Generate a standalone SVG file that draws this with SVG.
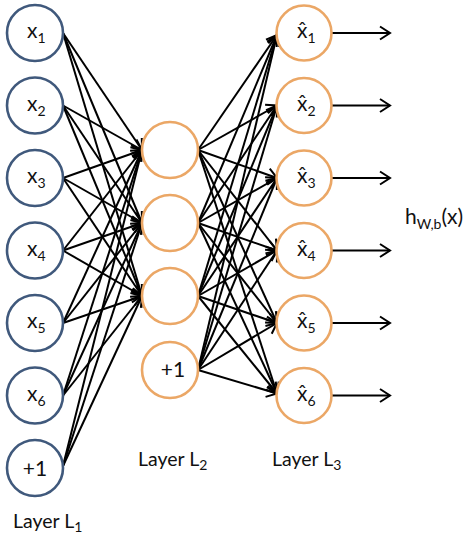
<svg xmlns="http://www.w3.org/2000/svg" width="469" height="535" viewBox="0 0 469 535">
<style>
  .n1 { fill: #ffffff; stroke: #40597c; stroke-width: 2.6; }
  .n2 { fill: #ffffff; stroke: #eba766; stroke-width: 2.6; }
  .t { font-family: Lato, "Open Sans", "Liberation Sans", sans-serif; font-size: 21px; fill: #111111; }
  .l { font-size: 19.5px; }
  .s { font-size: 14px; }
  .e { stroke: #000000; stroke-width: 2; fill: none; marker-end: url(#arr); }
</style>
<defs>
  <marker id="arr" markerUnits="userSpaceOnUse" viewBox="-12 -8 14 16" refX="0" refY="0" markerWidth="14" markerHeight="16" orient="auto">
    <path d="M-10,-6.5 L0,0 L-10,6.5" fill="none" stroke="#000000" stroke-width="2"/>
  </marker>
</defs>
<rect width="469" height="535" fill="#ffffff"/>

<g id="connectors">
  <line class="e" x1="63" y1="33" x2="142" y2="150"/>
  <line class="e" x1="63" y1="33" x2="142" y2="223"/>
  <line class="e" x1="63" y1="33" x2="142" y2="296"/>
  <line class="e" x1="63" y1="105.5" x2="142" y2="150"/>
  <line class="e" x1="63" y1="105.5" x2="142" y2="223"/>
  <line class="e" x1="63" y1="105.5" x2="142" y2="296"/>
  <line class="e" x1="63" y1="178" x2="142" y2="150"/>
  <line class="e" x1="63" y1="178" x2="142" y2="223"/>
  <line class="e" x1="63" y1="178" x2="142" y2="296"/>
  <line class="e" x1="63" y1="250.5" x2="142" y2="150"/>
  <line class="e" x1="63" y1="250.5" x2="142" y2="223"/>
  <line class="e" x1="63" y1="250.5" x2="142" y2="296"/>
  <line class="e" x1="63" y1="323" x2="142" y2="150"/>
  <line class="e" x1="63" y1="323" x2="142" y2="223"/>
  <line class="e" x1="63" y1="323" x2="142" y2="296"/>
  <line class="e" x1="63" y1="395.5" x2="142" y2="150"/>
  <line class="e" x1="63" y1="395.5" x2="142" y2="223"/>
  <line class="e" x1="63" y1="395.5" x2="142" y2="296"/>
  <line class="e" x1="63" y1="466" x2="142" y2="150"/>
  <line class="e" x1="63" y1="466" x2="142" y2="223"/>
  <line class="e" x1="63" y1="466" x2="142" y2="296"/>

  <line class="e" x1="198" y1="150" x2="277" y2="35"/>
  <line class="e" x1="198" y1="150" x2="277" y2="105.5"/>
  <line class="e" x1="198" y1="150" x2="277" y2="178"/>
  <line class="e" x1="198" y1="150" x2="277" y2="250.5"/>
  <line class="e" x1="198" y1="150" x2="277" y2="323"/>
  <line class="e" x1="198" y1="150" x2="277" y2="393.5"/>
  <line class="e" x1="198" y1="223" x2="277" y2="35"/>
  <line class="e" x1="198" y1="223" x2="277" y2="105.5"/>
  <line class="e" x1="198" y1="223" x2="277" y2="178"/>
  <line class="e" x1="198" y1="223" x2="277" y2="250.5"/>
  <line class="e" x1="198" y1="223" x2="277" y2="323"/>
  <line class="e" x1="198" y1="223" x2="277" y2="393.5"/>
  <line class="e" x1="198" y1="296" x2="277" y2="35"/>
  <line class="e" x1="198" y1="296" x2="277" y2="105.5"/>
  <line class="e" x1="198" y1="296" x2="277" y2="178"/>
  <line class="e" x1="198" y1="296" x2="277" y2="250.5"/>
  <line class="e" x1="198" y1="296" x2="277" y2="323"/>
  <line class="e" x1="198" y1="296" x2="277" y2="393.5"/>
  <line class="e" x1="198" y1="370" x2="277" y2="35"/>
  <line class="e" x1="198" y1="370" x2="277" y2="105.5"/>
  <line class="e" x1="198" y1="370" x2="277" y2="178"/>
  <line class="e" x1="198" y1="370" x2="277" y2="250.5"/>
  <line class="e" x1="198" y1="370" x2="277" y2="323"/>
  <line class="e" x1="198" y1="370" x2="277" y2="393.5"/>

  <line class="e" x1="332" y1="33" x2="390" y2="33"/>
  <line class="e" x1="332" y1="105.5" x2="390" y2="105.5"/>
  <line class="e" x1="332" y1="178" x2="390" y2="178"/>
  <line class="e" x1="332" y1="250.5" x2="390" y2="250.5"/>
  <line class="e" x1="332" y1="323" x2="390" y2="323"/>
  <line class="e" x1="332" y1="395.5" x2="390" y2="395.5"/>
</g>

<g id="x1"><circle class="n1" cx="35" cy="33" r="28"/><text class="t" x="27" y="38">x<tspan class="s" dy="5">1</tspan></text></g>
<g id="x2"><circle class="n1" cx="35" cy="105.5" r="28"/><text class="t" x="27" y="110.5">x<tspan class="s" dy="5">2</tspan></text></g>
<g id="x3"><circle class="n1" cx="35" cy="178" r="28"/><text class="t" x="27" y="183">x<tspan class="s" dy="5">3</tspan></text></g>
<g id="x4"><circle class="n1" cx="35" cy="250.5" r="28"/><text class="t" x="27" y="255.5">x<tspan class="s" dy="5">4</tspan></text></g>
<g id="x5"><circle class="n1" cx="35" cy="323" r="28"/><text class="t" x="27" y="328">x<tspan class="s" dy="5">5</tspan></text></g>
<g id="x6"><circle class="n1" cx="35" cy="395.5" r="28"/><text class="t" x="27" y="400.5">x<tspan class="s" dy="5">6</tspan></text></g>
<g id="b1"><circle class="n1" cx="35" cy="468" r="28"/><text class="t" x="35" y="476" text-anchor="middle" font-size="22">+1</text></g>

<g id="h1"><circle class="n2" cx="170" cy="150" r="28"/></g>
<g id="h2"><circle class="n2" cx="170" cy="223" r="28"/></g>
<g id="h3"><circle class="n2" cx="170" cy="296" r="28"/></g>
<g id="b2"><circle class="n2" cx="170" cy="370" r="28"/><text class="t" x="173" y="377" text-anchor="middle" font-size="22">+1</text></g>

<g id="y1"><circle class="n2" cx="304" cy="33" r="27.5"/><text class="t" x="297" y="38">x&#770;<tspan class="s" dy="5">1</tspan></text></g>
<g id="y2"><circle class="n2" cx="304" cy="105.5" r="27.5"/><text class="t" x="297" y="110.5">x&#770;<tspan class="s" dy="5">2</tspan></text></g>
<g id="y3"><circle class="n2" cx="304" cy="178" r="27.5"/><text class="t" x="297" y="183">x&#770;<tspan class="s" dy="5">3</tspan></text></g>
<g id="y4"><circle class="n2" cx="304" cy="250.5" r="27.5"/><text class="t" x="297" y="255.5">x&#770;<tspan class="s" dy="5">4</tspan></text></g>
<g id="y5"><circle class="n2" cx="304" cy="323" r="27.5"/><text class="t" x="297" y="328">x&#770;<tspan class="s" dy="5">5</tspan></text></g>
<g id="y6"><circle class="n2" cx="304" cy="395.5" r="27.5"/><text class="t" x="297" y="400.5">x&#770;<tspan class="s" dy="5">6</tspan></text></g>

<g id="labels">
  <text class="t" x="405" y="224">h<tspan class="s" dy="5">W,b</tspan><tspan dy="-5">(x)</tspan></text>
  <text class="t l" x="13" y="528">Layer L<tspan class="s" dy="4">1</tspan></text>
  <text class="t l" x="138" y="466">Layer L<tspan class="s" dy="4">2</tspan></text>
  <text class="t l" x="272" y="466">Layer L<tspan class="s" dy="4">3</tspan></text>
</g>
</svg>
